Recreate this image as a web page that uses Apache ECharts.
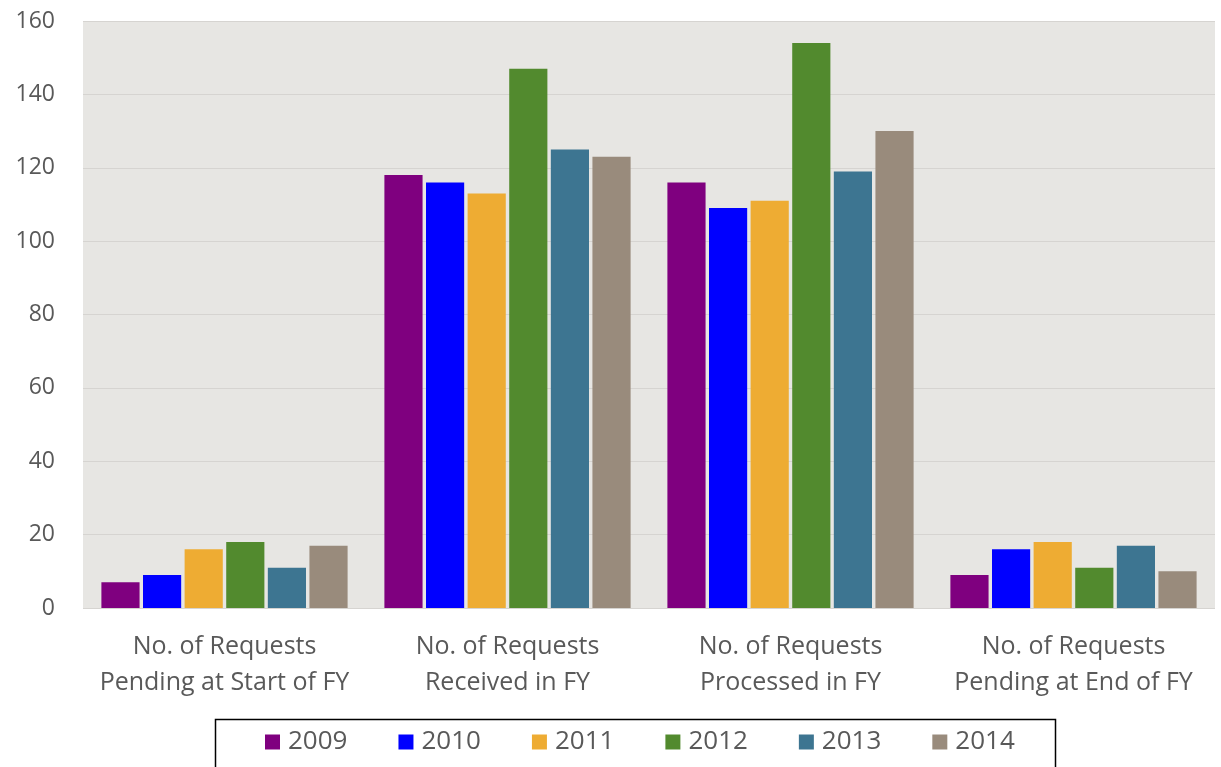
<!DOCTYPE html>
<html>
<head>
<meta charset="utf-8">
<script src="https://cdn.jsdelivr.net/npm/echarts@6/dist/echarts.min.js"></script>
<style>html,body{margin:0;padding:0;background:#fff;}#c{width:1221px;height:767px;}</style>
</head>
<body>
<div id="c"></div>
<script>
const categories = ["No. of Requests\nPending at Start of FY", "No. of Requests\nReceived in FY", "No. of Requests\nProcessed in FY", "No. of Requests\nPending at End of FY"];
const years = ["2009", "2010", "2011", "2012", "2013", "2014"];
const v2009 = [7, 118, 116, 9];
const v2010 = [9, 116, 109, 16];
const v2011 = [16, 113, 111, 18];
const v2012 = [18, 147, 154, 11];
const v2013 = [11, 125, 119, 17];
const v2014 = [17, 123, 130, 10];
const yTicks = [0, 20, 40, 60, 80, 100, 120, 140, 160];

const values = [v2009, v2010, v2011, v2012, v2013, v2014];
const colors = ["#7f007f", "#0000ff", "#eeac33", "#528a2e", "#3d7591", "#998b7c"];
const font = "'Open Sans', 'Noto Sans', sans-serif";

const chart = echarts.init(document.getElementById('c'));
chart.setOption({
  animation: false,
  backgroundColor: '#ffffff',
  textStyle: { fontFamily: font },
  grid: { left: 83, right: 6, top: 21, bottom: 159, show: true, backgroundColor: '#e7e6e3', borderWidth: 0 },
  graphic: [{
    type: 'rect', left: 213, top: 717, shape: { width: 840, height: 70 },
    style: { fill: 'none', stroke: '#000', lineWidth: 1.5 }, z: 10
  }],
  legend: {
    data: years,
    left: 265, top: 729, padding: 0,
    itemWidth: 15, itemHeight: 15, itemGap: 51,
    icon: 'rect',
    textStyle: { fontSize: 26, color: '#595959', fontFamily: font, padding: [0, 0, 0, 3] }
  },
  xAxis: {
    type: 'category', data: categories,
    axisLine: { show: false },
    axisTick: { show: false },
    axisLabel: { interval: 0, fontSize: 25, color: '#595959', lineHeight: 36, margin: 21, fontFamily: font }
  },
  yAxis: {
    type: 'value', min: 0, max: 160, interval: 20,
    axisLine: { show: false }, axisTick: { show: false },
    splitLine: { lineStyle: { color: '#d6d4d1', width: 1 } },
    axisLabel: { fontSize: 23, color: '#595959', margin: 28, fontFamily: font }
  },
  series: years.map((y, i) => ({
    name: y, type: 'bar', data: values[i],
    itemStyle: { color: colors[i] },
    barGap: '9%', barCategoryGap: '13%'
  }))
});
</script>
</body>
</html>
